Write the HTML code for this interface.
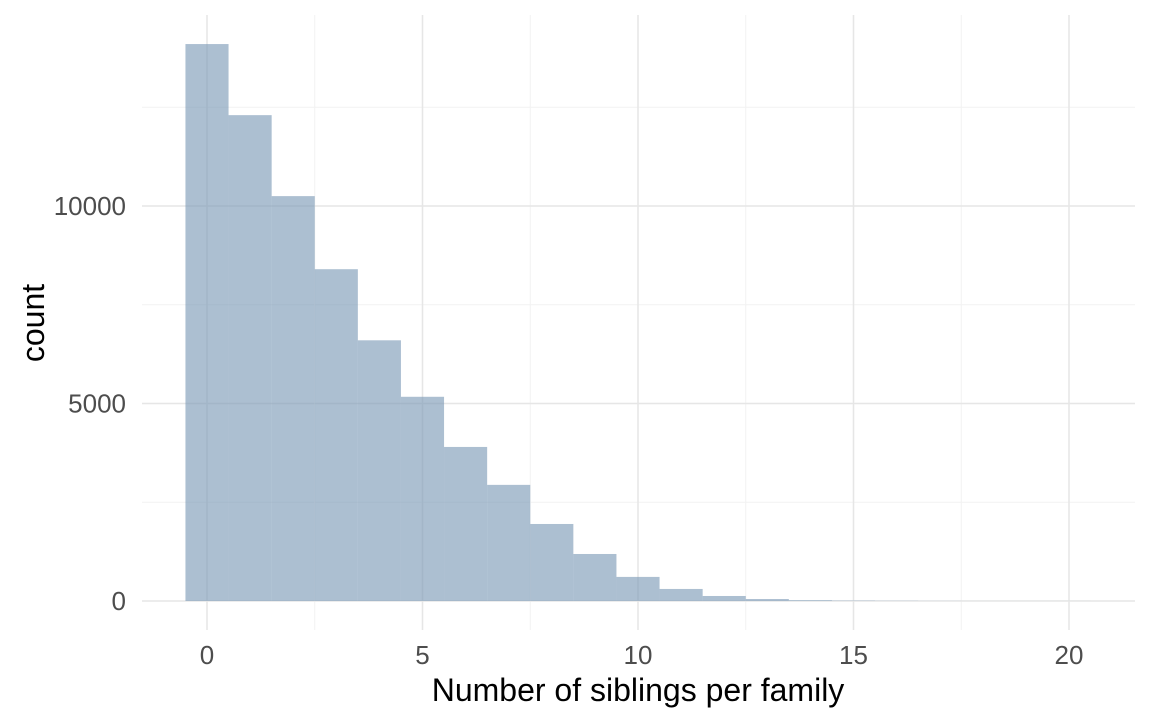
<!DOCTYPE html>
<html><head><meta charset="utf-8"><style>
body{margin:0;background:#fff;}
svg text{font-family:"Liberation Sans",sans-serif;}
</style></head><body>
<svg id="chart" width="1152" height="720">
<g id="grid"></g>
<g id="bars"></g>
<g id="axes"></g>
<text x="638" y="701" text-anchor="middle" font-size="32" fill="#000">Number of siblings per family</text>
<text transform="translate(44,323) rotate(-90)" text-anchor="middle" font-size="32" fill="#000">count</text>
</svg>
<script>
const binCenters=[0,1,2,3,4,5,6,7,8,9,10,11,12,13,14,15,16,17,18,19,20];
const counts=[14100,12300,10250,8400,6600,5170,3900,2940,1950,1190,610,305,127,50,20,10,5,2,1,1,1];
const xTicks=[0,5,10,15,20];
const yTicks=[0,5000,10000];
const xMinor=[2.5,7.5,12.5,17.5];
const yMinor=[2500,7500,12500];
const X=v=>207+v*43.1, Y=v=>601-v*0.0395;
const ns="http://www.w3.org/2000/svg";
function mk(p,t,a){const e=document.createElementNS(ns,t);for(const k in a)e.setAttribute(k,a[k]);p.appendChild(e);return e;}
const g=document.getElementById('grid'),b=document.getElementById('bars'),ax=document.getElementById('axes');
const L=142,R=1135,T=15,B=630;
xMinor.forEach(v=>{const l=mk(g,'line',{x1:X(v),x2:X(v),y1:T,y2:B,stroke:'#f2f2f2','stroke-width':1});

});
yMinor.forEach(v=>{const l=mk(g,'line',{x1:L,x2:R,y1:Y(v),y2:Y(v),stroke:'#f2f2f2','stroke-width':1});

});
xTicks.forEach(v=>{const l=mk(g,'line',{x1:X(v),x2:X(v),y1:T,y2:B,stroke:'#e6e6e6','stroke-width':1.5});


const t=mk(ax,'text',{x:X(v),y:664,'text-anchor':'middle','font-size':26,fill:'#4d4d4d'});t.textContent=v;

});
yTicks.forEach(v=>{const l=mk(g,'line',{x1:L,x2:R,y1:Y(v),y2:Y(v),stroke:'#e6e6e6','stroke-width':1.5});


const t=mk(ax,'text',{x:126,y:Y(v)+9,'text-anchor':'end','font-size':26,fill:'#4d4d4d'});t.textContent=v;

});
binCenters.forEach((c,i)=>{const x0=X(c-0.5),x1=X(c+0.5);
const r=mk(b,'rect',{x:x0,y:Y(counts[i]),width:x1-x0,height:Y(0)-Y(counts[i]),fill:'#7998b5','fill-opacity':0.62});

});
</script>
</body></html>
